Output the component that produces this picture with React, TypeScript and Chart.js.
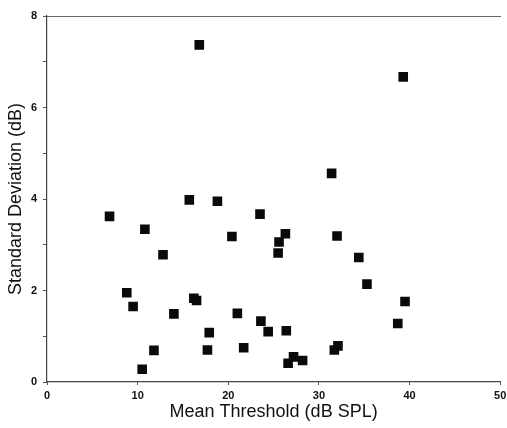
import React, { useEffect, useRef } from "react";
import { Chart, registerables } from "chart.js";

Chart.register(...registerables);

const meanThreshold: number[] = [
  6.9, 10.8, 12.8, 8.8, 9.5, 14.0, 16.2, 16.5, 15.7, 18.8, 20.4, 21.0, 17.9,
  17.7, 21.7, 11.8, 10.5, 23.5, 26.3, 25.6, 25.5, 32.0, 34.4, 35.3, 39.5, 38.7,
  23.6, 24.4, 26.4, 32.1, 31.7, 27.2, 28.2, 26.6, 16.8, 39.3, 31.4,
];
const stdDeviation: number[] = [
  3.62, 3.34, 2.78, 1.95, 1.65, 1.49, 1.83, 1.78, 3.98, 3.95, 3.18, 1.5, 1.08,
  0.7, 0.75, 0.69, 0.28, 3.67, 3.24, 3.06, 2.82, 3.19, 2.72, 2.14, 1.76, 1.28,
  1.33, 1.1, 1.12, 0.79, 0.7, 0.55, 0.47, 0.41, 7.37, 6.67, 4.56,
];
const xTicks: number[] = [0, 10, 20, 30, 40, 50];
const yLabelTicks: number[] = [0, 2, 4, 6, 8];
const xTitle = "Mean Threshold (dB SPL)";
const yTitle = "Standard Deviation (dB)";

export default function App() {
  const ref = useRef<HTMLCanvasElement | null>(null);
  useEffect(() => {
    document.body.style.margin = "0";
    const canvas = ref.current;
    if (!canvas) return;
    const font = "'Liberation Sans', Arial, Helvetica, sans-serif";
    const chart = new Chart(canvas, {
      type: "scatter",
      data: {
        datasets: [
          {
            data: meanThreshold.map((x, i) => ({ x, y: stdDeviation[i] })),
            pointStyle: "rect",
            pointRadius: 6.8,
            pointHoverRadius: 6.8,
            backgroundColor: "#0a0a0a",
            borderColor: "#0a0a0a",
            borderWidth: 0,
          },
        ],
      },
      options: {
        responsive: false,
        animation: false,
        layout: { padding: { left: 0, right: 3, top: 16, bottom: 0 } },
        plugins: { legend: { display: false }, tooltip: { enabled: false } },
        scales: {
          x: {
            type: "linear",
            min: 0,
            max: 50,
            afterBuildTicks: (s: any) => {
              s.ticks = xTicks.map((v) => ({ value: v }));
            },
            afterFit: (s: any) => {
              s.height = 46;
              s.paddingLeft = 0;
              s.paddingRight = 0;
            },
            grid: {
              drawOnChartArea: false,
              drawTicks: true,
              tickLength: 3,
              color: "#555",
            },
            border: { display: true, color: "#444", width: 1.2 },
            ticks: {
              color: "#111",
              padding: 4,
              maxRotation: 0,
              font: { family: font, size: 11, weight: "bold" },
            },
            title: {
              display: true,
              text: xTitle,
              color: "#111",
              font: { family: font, size: 18 },
              padding: { top: 0, bottom: 5 },
            },
          },
          x2: {
            type: "linear",
            position: "top",
            min: 0,
            max: 50,
            afterFit: (s: any) => {
              s.height = 0;
              s.paddingLeft = 0;
              s.paddingRight = 0;
            },
            grid: { display: false, drawTicks: false },
            ticks: { display: false },
            border: { display: true, color: "#666", width: 1, dash: [14, 3, 3, 3] },
          },
          y: {
            type: "linear",
            min: 0,
            max: 8,
            afterBuildTicks: (s: any) => {
              const t: { value: number }[] = [];
              for (let v = 0; v <= 8; v++) t.push({ value: v });
              s.ticks = t;
            },
            afterFit: (s: any) => {
              s.width = 47;
            },
            grid: {
              drawOnChartArea: false,
              drawTicks: true,
              tickLength: 4,
              color: "#555",
            },
            border: { display: true, color: "#444", width: 1.2 },
            ticks: {
              color: "#111",
              padding: 6,
              font: { family: font, size: 11, weight: "bold" },
              callback: (v: any) => (yLabelTicks.includes(Number(v)) ? String(v) : ""),
            },
            title: {
              display: true,
              text: yTitle,
              color: "#111",
              font: { family: font, size: 18 },
              padding: { top: 5, bottom: 0 },
            },
          },
        },
      },
    } as any);
    return () => chart.destroy();
  }, []);
  return (
    <div style={{ position: "absolute", left: 0, top: 0, width: 507, height: 428, background: "#fff" }}>
      <canvas ref={ref} width={507} height={428} />
    </div>
  );
}
